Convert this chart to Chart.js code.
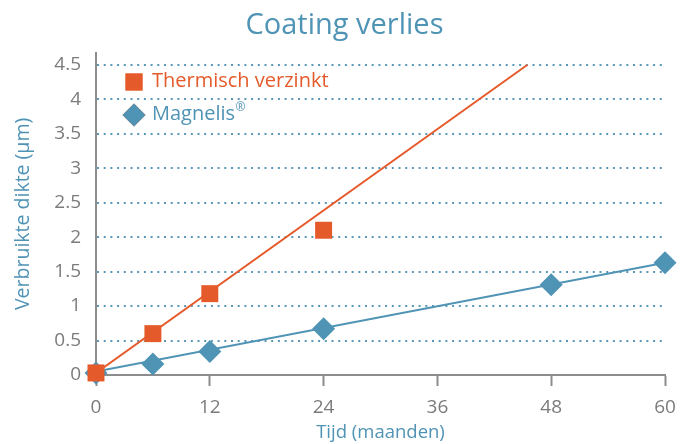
<!DOCTYPE html>
<html>
<head>
<meta charset="utf-8">
<script src="https://cdn.jsdelivr.net/npm/chart.js@4/dist/chart.umd.min.js"></script>
<style>
  html, body { margin: 0; padding: 0; background: #fff; }
  #wrap { width: 689px; height: 444px; }
</style>
</head>
<body>
<div id="wrap"><canvas id="coating"></canvas></div>
<script>
// meetpunten (maanden, µm)
const thermischMaanden = [0, 6, 12, 24];
const thermischDikte = [0.03, 0.6, 1.18, 2.1];
const magnelisMaanden = [0, 6, 12, 24, 48, 60];
const magnelisDikte = [0.03, 0.16, 0.34, 0.67, 1.31, 1.63];

// trendlijnen (begin- en eindpunt)
const thermischTrendMaanden = [0, 45.5];
const thermischTrendDikte = [0.03, 4.5];
const magnelisTrendMaanden = [0, 60];
const magnelisTrendDikte = [0.05, 1.63];

const xTicks = [0, 12, 24, 36, 48, 60];
const yTicks = [0, 0.5, 1, 1.5, 2, 2.5, 3, 3.5, 4, 4.5];

const oranje = '#e55a2a';
const blauw = '#4f93b5';
const grijs = '#7b7b7b';
const lettertype = 'Open Sans';

const punten = (xs, ys) => xs.map((x, i) => ({ x: x, y: ys[i] }));

// legenda binnen het grafiekvlak, linksboven
const binnenLegenda = {
  id: 'binnenLegenda',
  afterDraw(chart) {
    const ctx = chart.ctx;
    const items = chart.data.datasets.filter(d => !d.trend);
    ctx.save();
    ctx.textBaseline = 'middle';
    items.forEach((d, i) => {
      const x = 134, y = 82 + i * 33;
      Chart.helpers.drawPoint(ctx, {
        pointStyle: d.pointStyle,
        radius: d.pointRadius,
        borderWidth: 0
      }, x, y);
      ctx.fillStyle = d.backgroundColor;
      ctx.fill();
      // ® als superscript
      const delen = d.label.split('®');
      ctx.font = '20px "' + lettertype + '"';
      ctx.fillText(delen[0], 152, y - 1);
      if (delen.length > 1) {
        const w = ctx.measureText(delen[0]).width;
        ctx.font = '12px "' + lettertype + '"';
        ctx.fillText('®', 152 + w + 0.5, y - 7);
      }
    });
    ctx.restore();
  }
};

new Chart(document.getElementById('coating'), {
  type: 'scatter',
  data: {
    datasets: [{
      label: 'Thermisch verzinkt',
      data: punten(thermischMaanden, thermischDikte),
      backgroundColor: oranje,
      borderColor: oranje,
      pointStyle: 'rect',
      pointRadius: 12,
      pointHoverRadius: 12,
      borderWidth: 0,
      clip: false,
      order: 0
    }, {
      label: 'Magnelis®',
      data: punten(magnelisMaanden, magnelisDikte),
      backgroundColor: blauw,
      borderColor: blauw,
      pointStyle: 'rectRot',
      pointRadius: 11.5,
      pointHoverRadius: 11.5,
      borderWidth: 0,
      clip: false,
      order: 1
    }, {
      label: 'trend thermisch',
      trend: true,
      data: punten(thermischTrendMaanden, thermischTrendDikte),
      showLine: true,
      borderColor: oranje,
      borderWidth: 2,
      pointRadius: 0,
      order: 2
    }, {
      label: 'trend magnelis',
      trend: true,
      data: punten(magnelisTrendMaanden, magnelisTrendDikte),
      showLine: true,
      borderColor: blauw,
      borderWidth: 2,
      pointRadius: 0,
      order: 3
    }]
  },
  options: {
    responsive: true,
    maintainAspectRatio: false,
    animation: false,
    layout: { padding: { left: 24, right: 24, top: 0, bottom: 0 } },
    plugins: {
      legend: { display: false },
      tooltip: { enabled: false },
      title: {
        display: true,
        text: 'Coating verlies',
        color: blauw,
        font: { family: lettertype, size: 29, weight: 'normal' },
        padding: { top: 8, bottom: 10 }
      }
    },
    scales: {
      x: {
        type: 'linear',
        min: 0,
        max: 60,
        afterBuildTicks: s => { s.ticks = xTicks.map(v => ({ value: v })); },
        afterFit: s => { s.height = 69; },
        ticks: {
          color: grijs,
          font: { family: lettertype, size: 19 },
          padding: 10
        },
        grid: {
          drawOnChartArea: false,
          drawTicks: true,
          tickLength: 11,
          tickColor: '#8c8c8c',
          tickWidth: 2
        },
        border: { color: '#8c8c8c', width: 2 },
        title: {
          display: true,
          text: 'Tijd (maanden)',
          color: blauw,
          font: { family: lettertype, size: 18.5 },
          padding: { top: 0, bottom: 0 }
        }
      },
      y: {
        type: 'linear',
        min: 0,
        max: 4.674,
        afterBuildTicks: s => { s.ticks = yTicks.map(v => ({ value: v })); },
        afterFit: s => { s.width = 72; },
        ticks: {
          color: grijs,
          font: { family: lettertype, size: 19 },
          padding: 15,
          callback: v => String(v)
        },
        grid: {
          drawTicks: false,
          color: ctx => ctx.tick && ctx.tick.value === 0 ? 'rgba(0,0,0,0)' : '#5a98b8',
          lineWidth: 2
        },
        border: { color: '#8c8c8c', width: 2, dash: [2, 4.7] },
        title: {
          display: true,
          text: 'Verbruikte dikte (µm)',
          color: blauw,
          font: { family: lettertype, size: 19.5 },
          padding: { top: -12, bottom: 0 }
        }
      }
    }
  },
  plugins: [binnenLegenda]
});
</script>
</body>
</html>
